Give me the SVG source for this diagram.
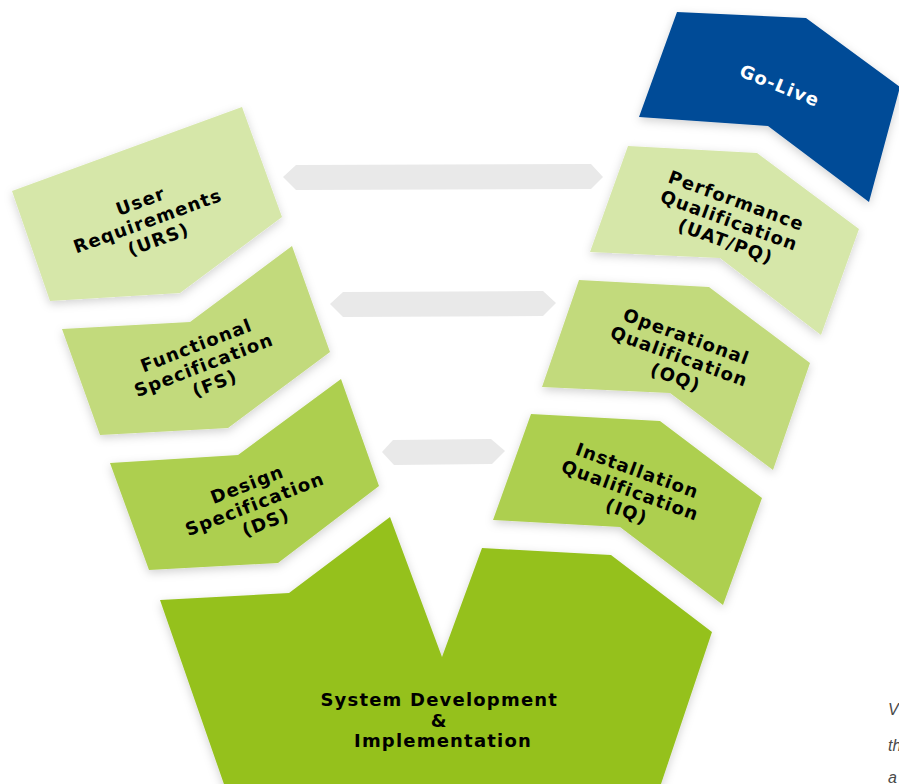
<svg xmlns="http://www.w3.org/2000/svg" width="899" height="784" viewBox="0 0 899 784">
  <defs>
    <filter id="sh" x="-20%" y="-20%" width="140%" height="140%">
      <feDropShadow dx="0" dy="3" stdDeviation="5" flood-color="#000" flood-opacity="0.18"/>
    </filter>
  </defs>
  <style>
    .lbl { font-family: "DejaVu Sans", "Liberation Sans", Arial, sans-serif; font-weight: bold; font-size: 18px; letter-spacing: 1.2px; text-anchor: middle; fill: #000; }
    .wht { fill: #fff; }
    .c1 { fill: #d6e7a9; }
    .c2 { fill: #c2da7b; }
    .c3 { fill: #adcf50; }
    .c4 { fill: #95c11f; }
    .blue { fill: #024b97; }
    .arr { fill: #e9e9e9; }
    .side { font-family: "Liberation Sans", Arial, sans-serif; font-style: italic; font-size: 16px; fill: #4a4a4a; }
  </style>
  <rect width="899" height="784" fill="#fff"/>

  <g id="connectors">
    <polygon class="arr" points="283,177 296,165 591,164 603,177 591,189 296,190"/>
    <polygon class="arr" points="330,304 343,292 543,291 556,303 543,316 343,317"/>
    <polygon class="arr" points="382,452 393,440 491,439 505,451 492,464 394,465"/>
  </g>

  <g id="urs">
    <polygon class="c1" filter="url(#sh)" points="12,191 242,107 282,217 180,293 50,301"/>
    <text class="lbl" transform="translate(151,219) rotate(-20)">
      <tspan x="0" y="-14">User</tspan>
      <tspan x="0" y="7">Requirements</tspan>
      <tspan x="0" y="28">(URS)</tspan>
    </text>
  </g>

  <g id="fs">
    <polygon class="c2" filter="url(#sh)" points="62,329 190,322 292,246 330,352 228,428 100,435"/>
    <text class="lbl" transform="translate(207,363) rotate(-21)">
      <tspan x="0" y="-14">Functional</tspan>
      <tspan x="0" y="7">Specification</tspan>
      <tspan x="0" y="28">(FS)</tspan>
    </text>
  </g>

  <g id="ds">
    <polygon class="c3" filter="url(#sh)" points="110,463 238,455 341,379 379,486 278,563 149,570"/>
    <text class="lbl" transform="translate(258,502) rotate(-21)">
      <tspan x="0" y="-14">Design</tspan>
      <tspan x="0" y="7">Specification</tspan>
      <tspan x="0" y="28">(DS)</tspan>
    </text>
  </g>

  <g id="sysdev">
    <polygon class="c4" filter="url(#sh)" points="160,600 289,593 390,517 442,657 482,548 611,555 712,632 659,790 226,790"/>
    <text class="lbl">
      <tspan x="443" y="706">System Development</tspan>
      <tspan x="443" y="727">&amp;</tspan>
      <tspan x="443" y="747">Implementation</tspan>
    </text>
  </g>

  <g id="iq">
    <polygon class="c3" filter="url(#sh)" points="531,414 660,421 762,498 723,605 620,527 493,520"/>
    <text class="lbl" transform="translate(634,491) rotate(20)">
      <tspan x="0" y="-14">Installation</tspan>
      <tspan x="0" y="7">Qualification</tspan>
      <tspan x="0" y="28">(IQ)</tspan>
    </text>
  </g>

  <g id="oq">
    <polygon class="c2" filter="url(#sh)" points="579,280 709,287 810,363 773,470 670,393 542,387"/>
    <text class="lbl" transform="translate(683,357) rotate(20)">
      <tspan x="0" y="-14">Operational</tspan>
      <tspan x="0" y="7">Qualification</tspan>
      <tspan x="0" y="28">(OQ)</tspan>
    </text>
  </g>

  <g id="pq">
    <polygon class="c1" filter="url(#sh)" points="628,146 757,153 859,229 821,335 720,258 590,252"/>
    <text class="lbl" transform="translate(733,221) rotate(20)">
      <tspan x="0" y="-14">Performance</tspan>
      <tspan x="0" y="7">Qualification</tspan>
      <tspan x="0" y="28">(UAT/PQ)</tspan>
    </text>
  </g>

  <g id="golive">
    <polygon class="blue" filter="url(#sh)" points="677,12 806,18 900,87 869,202 768,126 639,117"/>
    <text class="lbl wht" transform="translate(780,85) rotate(22)" x="0" y="7">Go-Live</text>
  </g>

  <g id="sidetext">
    <text class="side" x="888" y="715">V</text>
    <text class="side" x="888" y="751">th</text>
    <text class="side" x="888" y="783">a</text>
  </g>
</svg>
